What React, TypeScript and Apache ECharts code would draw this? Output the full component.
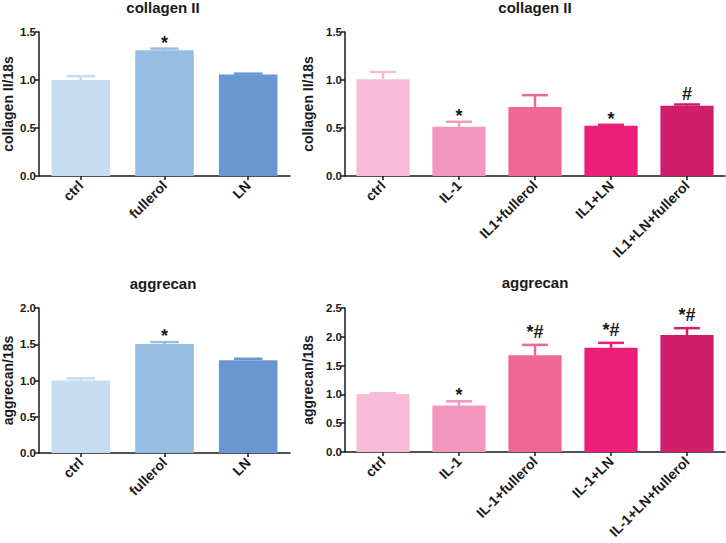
import React, { useEffect, useRef } from "react";
import * as echarts from "echarts";

const leftCats = ["ctrl", "fullerol", "LN"];
const colRightCats = ["ctrl", "IL-1", "IL1+fullerol", "IL1+LN", "IL1+LN+fullerol"];
const aggRightCats = ["ctrl", "IL-1", "IL-1+fullerol", "IL-1+LN", "IL-1+LN+fullerol"];

const colLeftMean = [1.0, 1.31, 1.056];
const colLeftErr = [0.04, 0.017, 0.01];
const colLeftSig = ["", "*", ""];

const colRightMean = [1.008, 0.513, 0.72, 0.523, 0.731];
const colRightErr = [0.076, 0.052, 0.122, 0.01, 0.014];
const colRightSig = ["", "*", "", "*", "#"];

const aggLeftMean = [1.0, 1.503, 1.278];
const aggLeftErr = [0.03, 0.027, 0.022];
const aggLeftSig = ["", "*", ""];

const aggRightMean = [1.008, 0.806, 1.68, 1.81, 2.03];
const aggRightErr = [0.012, 0.074, 0.18, 0.085, 0.12];
const aggRightSig = ["", "*", "*#", "*#", "*#"];

const blues = ["#c6dcf1", "#98bde3", "#6898cf"];
const pinks = ["#f8bbd5", "#f397bf", "#ee6896", "#ec1e79", "#d01f68"];

const FONT = "'Liberation Sans', Arial, Helvetica, sans-serif";
const INK = "#1a1a1a";

export default function App() {
  const ref = useRef<HTMLDivElement>(null);
  useEffect(() => {
    if (!ref.current) return;
    const chart = echarts.init(ref.current, null, { renderer: "svg" });

    const grids = [
      { left: 36, top: 32, width: 254, height: 144 },
      { left: 345, top: 32, width: 380, height: 144 },
      { left: 36, top: 308, width: 254, height: 145 },
      { left: 345, top: 308, width: 380, height: 144 },
    ];
    const panels = [
      { cats: leftCats, mean: colLeftMean, err: colLeftErr, sig: colLeftSig, colors: blues, max: 1.5, name: "collagen II/18s", title: "collagen II", tx: 163, ty: 0 },
      { cats: colRightCats, mean: colRightMean, err: colRightErr, sig: colRightSig, colors: pinks, max: 1.5, name: "collagen II/18s", title: "collagen II", tx: 535, ty: 0 },
      { cats: leftCats, mean: aggLeftMean, err: aggLeftErr, sig: aggLeftSig, colors: blues, max: 2.0, name: "aggrecan/18s", title: "aggrecan", tx: 163, ty: 276 },
      { cats: aggRightCats, mean: aggRightMean, err: aggRightErr, sig: aggRightSig, colors: pinks, max: 2.5, name: "aggrecan/18s", title: "aggrecan", tx: 535, ty: 275 },
    ];

    const axisLine = { show: true, lineStyle: { color: INK, width: 1.5 } };
    const axisTick = { show: true, length: 4, lineStyle: { color: INK, width: 1.5 } };

    const xAxis = panels.map((p, i) => ({
      type: "category",
      gridIndex: i,
      data: p.cats,
      axisLine,
      axisTick: { ...axisTick, alignWithLabel: true },
      axisLabel: {
        rotate: 45,
        interval: 0,
        margin: 7,
        color: INK,
        fontWeight: "bold",
        fontSize: 14,
        fontFamily: FONT,
      },
    }));
    const yAxis = panels.map((p, i) => ({
      type: "value",
      gridIndex: i,
      min: 0,
      max: p.max,
      interval: 0.5,
      name: p.name,
      nameLocation: "middle",
      nameGap: 24,
      nameTextStyle: { color: INK, fontWeight: "bold", fontSize: 14, fontFamily: FONT },
      splitLine: { show: false },
      axisLine,
      axisTick,
      axisLabel: {
        margin: 3,
        color: INK,
        fontWeight: "bold",
        fontSize: 11.5,
        fontFamily: FONT,
        formatter: (v: number) => v.toFixed(1),
      },
    }));

    const sigOffset = (s: string) => (s === "*" ? 3 : s === "#" ? -1 : -4);

    const series: any[] = [];
    panels.forEach((p, i) => {
      series.push({
        type: "bar",
        xAxisIndex: i,
        yAxisIndex: i,
        barWidth: "70%",
        data: p.mean.map((v, k) => ({ value: v, itemStyle: { color: p.colors[k] } })),
      });
      series.push({
        type: "custom",
        xAxisIndex: i,
        yAxisIndex: i,
        z: 5,
        data: p.mean.map((v, k) => [k, v, p.err[k]]),
        encode: { x: 0, y: 1 },
        renderItem: (params: any, api: any) => {
          const k = params.dataIndex;
          const xi = api.value(0);
          const m = api.value(1);
          const e = api.value(2);
          const base = api.coord([xi, m]);
          const top = api.coord([xi, m + e]);
          const band = api.size([1, 0])[0];
          const hw = band * 0.17;
          const color = p.colors[k];
          const children: any[] = [
            {
              type: "line",
              shape: { x1: base[0], y1: base[1], x2: top[0], y2: top[1] },
              style: { stroke: color, lineWidth: 2.5 },
            },
            {
              type: "line",
              shape: { x1: top[0] - hw, y1: top[1], x2: top[0] + hw, y2: top[1] },
              style: { stroke: color, lineWidth: 2.5 },
            },
          ];
          const s = p.sig[k];
          if (s) {
            children.push({
              type: "text",
              x: top[0],
              y: top[1] + sigOffset(s),
              style: {
                text: s,
                fill: INK,
                font: `bold 18px ${FONT}`,
                textAlign: "center",
                textVerticalAlign: "bottom",
                align: "center",
                verticalAlign: "bottom",
              },
            });
          }
          return { type: "group", children };
        },
      });
    });

    chart.setOption({
      animation: false,
      backgroundColor: "#ffffff",
      title: panels.map((p) => ({
        text: p.title,
        left: p.tx,
        top: p.ty,
        textAlign: "center",
        padding: 0,
        textStyle: { color: INK, fontWeight: "bold", fontSize: 15, fontFamily: FONT },
      })),
      grid: grids,
      xAxis,
      yAxis,
      series,
    });
    return () => chart.dispose();
  }, []);

  return (
    <div
      ref={ref}
      style={{ position: "absolute", left: 0, top: 0, width: 726, height: 543 }}
    />
  );
}
